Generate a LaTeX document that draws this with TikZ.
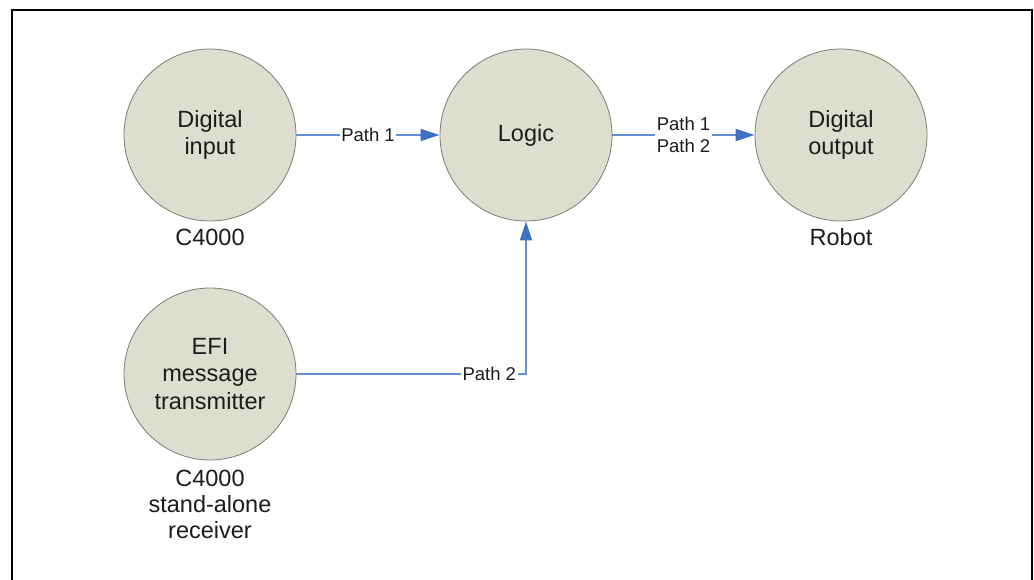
\documentclass[tikz,border=0pt]{standalone}
\usepackage{fontspec}
\setmainfont{Liberation Sans}
\usetikzlibrary{arrows.meta}
\definecolor{circfill}{RGB}{221,222,207}
\definecolor{circline}{RGB}{125,125,120}
\definecolor{lineblue}{RGB}{98,142,210}
\definecolor{tipblue}{RGB}{62,112,196}
\definecolor{txt}{RGB}{28,28,28}
\begin{document}
\begin{tikzpicture}[x=1pt,y=-1pt,
  blob/.style={circle, draw=circline, line width=0.8pt, fill=circfill,
    minimum size=172pt, inner sep=0pt, align=center,
    font=\fontsize{23.5}{27.5}\selectfont, text=txt},
  sub/.style={align=center, inner sep=0pt,
    font=\fontsize{23.5}{26}\selectfont, text=txt},
  lab/.style={fill=white, inner sep=1.5pt, align=center,
    font=\fontsize{18.5}{21.5}\selectfont, text=txt},
  conn/.style={draw=lineblue, line width=1.6pt,
    -{Triangle[length=19pt,width=12pt,color=tipblue]}}]
\useasboundingbox (0,0) rectangle (1034,580);
\fill[white] (0,0) rectangle (1034,580);
\draw[line width=2.2pt] (12,583) -- (12,10) -- (1032,10) -- (1032,583);

\node[blob] (din) at (210,135) {Digital\\input};
\node[blob] (logic) at (526,135) {Logic};
\node[blob] (dout) at (841,135) {Digital\\output};
\node[blob] (efi) at (210,374) {EFI\\message\\transmitter};

\node[sub, below=7pt] (dinlab) at (din.south) {C4000};
\node[sub, below=9pt] (efilab) at (efi.south) {C4000\\stand-alone\\receiver};
\node[sub, below=7pt] (doutlab) at (dout.south) {Robot};

\draw[conn] (din) -- node[lab] {Path 1} (logic);
\draw[conn] (logic) -- node[lab] {Path 1\\Path 2} (dout);
\draw[conn] (efi) -| node[lab, pos=0.42] {Path 2} (logic);
\end{tikzpicture}
\end{document}
